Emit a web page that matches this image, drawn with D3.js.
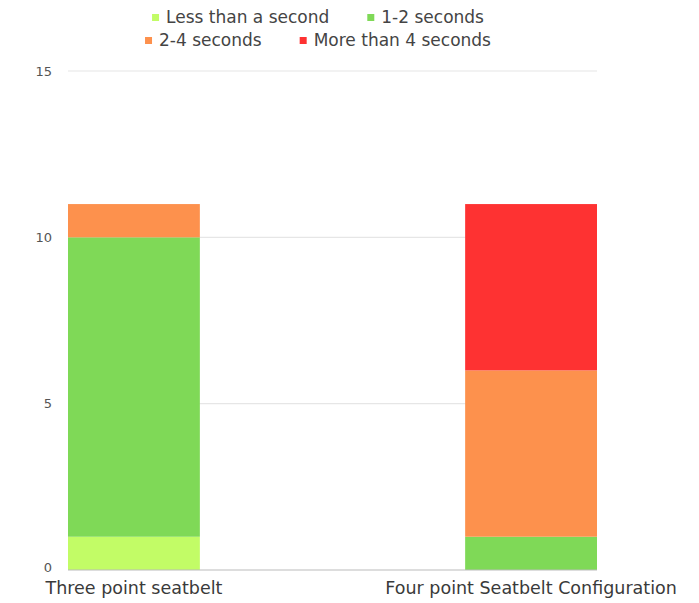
<!DOCTYPE html>
<html>
<head>
<meta charset="utf-8">
<script src="https://cdn.jsdelivr.net/npm/d3@7/dist/d3.min.js"></script>
<style>
  body { margin: 0; background: #fff; }
  svg { font-family: "DejaVu Sans", sans-serif; }
</style>
</head>
<body>
<div class="graphContainer"></div>
<script>
var categories = ["Three point seatbelt", "Four point Seatbelt Configuration"];
var seriesNames = ["Less than a second", "1-2 seconds", "2-4 seconds", "More than 4 seconds"];
var lessThanSecond = [1, 0];
var oneToTwo = [9, 1];
var twoToFour = [1, 5];
var moreThanFour = [0, 5];
var yTicks = [0, 5, 10, 15];

var colors = ["#c2fc66", "#7fd957", "#fd914d", "#fe3232"];

var width = 699;
var height = 603;

var svgContainer = d3
  .select(".graphContainer")
  .append("svg")
  .attr("width", width)
  .attr("height", height);

// build rows for the stack
var rows = categories.map(function (c, i) {
  return {
    cat: c,
    "Less than a second": lessThanSecond[i],
    "1-2 seconds": oneToTwo[i],
    "2-4 seconds": twoToFour[i],
    "More than 4 seconds": moreThanFour[i]
  };
});
var stacked = d3.stack().keys(seriesNames)(rows);

var xScale = d3
  .scaleBand()
  .domain(categories)
  .range([68, 597])
  .paddingInner(0.668)
  .paddingOuter(0);

var yScale = d3.scaleLinear().domain([0, 15]).range([570, 71]);

// grid
svgContainer
  .append("g")
  .selectAll("line")
  .data(yTicks.filter((d) => d > 0))
  .enter()
  .append("line")
  .attr("x1", 68)
  .attr("x2", 597)
  .attr("y1", (d) => yScale(d))
  .attr("y2", (d) => yScale(d))
  .style("stroke", "#e6e6e6")
  .style("stroke-width", 1.2);

// y axis
var yAxis = d3.axisLeft(yScale).tickValues(yTicks).tickSize(0).tickPadding(0);
var yAxisGroup = svgContainer
  .append("g")
  .call(yAxis)
  .attr("transform", "translate(52,0)");
yAxisGroup.select(".domain").remove();
yAxisGroup
  .selectAll("text")
  .style("font-family", "DejaVu Sans, sans-serif")
  .style("font-size", "13px")
  .style("fill", "#555");
// nudge the zero label up so it clears the category labels
yAxisGroup
  .selectAll(".tick")
  .filter((d) => d === 0)
  .select("text")
  .attr("dy", "0.1em");

// bars
svgContainer
  .append("g")
  .selectAll("g")
  .data(stacked)
  .enter()
  .append("g")
  .style("fill", (d, i) => colors[i])
  .selectAll("rect")
  .data((d) => d)
  .enter()
  .append("rect")
  .attr("x", (d) => xScale(d.data.cat))
  .attr("y", (d) => yScale(d[1]))
  .attr("width", xScale.bandwidth())
  .attr("height", (d) => yScale(d[0]) - yScale(d[1]));

// baseline
svgContainer
  .append("line")
  .attr("x1", 68)
  .attr("x2", 597)
  .attr("y1", yScale(0))
  .attr("y2", yScale(0))
  .style("stroke", "#bbb")
  .style("stroke-width", 1);

// x axis labels
var xAxis = d3.axisBottom(xScale).tickSize(0).tickPadding(0);
var xAxisGroup = svgContainer
  .append("g")
  .call(xAxis)
  .attr("transform", "translate(0,582)");
xAxisGroup.select(".domain").remove();
xAxisGroup
  .selectAll("text")
  .style("font-family", "DejaVu Sans, sans-serif")
  .style("font-size", "17.5px")
  .style("fill", "#3a3a3a");

// legend
var legendContainer = svgContainer.append("g").attr("id", "legend");
var legendRows = [[0, 1], [2, 3]];
var legendY = [18, 41];
legendRows.forEach(function (r, ri) {
  var g = legendContainer.append("g");
  var xPos = 0;
  r.forEach(function (si) {
    g.append("rect")
      .attr("x", xPos)
      .attr("y", legendY[ri] - 4)
      .attr("width", 7)
      .attr("height", 7)
      .style("fill", colors[si]);
    var t = g
      .append("text")
      .attr("x", xPos + 14)
      .attr("y", legendY[ri])
      .attr("dominant-baseline", "middle")
      .style("font-size", "17px")
      .style("fill", "#444")
      .text(seriesNames[si]);
    xPos += 14 + t.node().getComputedTextLength() + 38;
  });
  var w = xPos - 38;
  g.attr("transform", "translate(" + (318 - w / 2) + ",0)");
});
</script>
</body>
</html>
